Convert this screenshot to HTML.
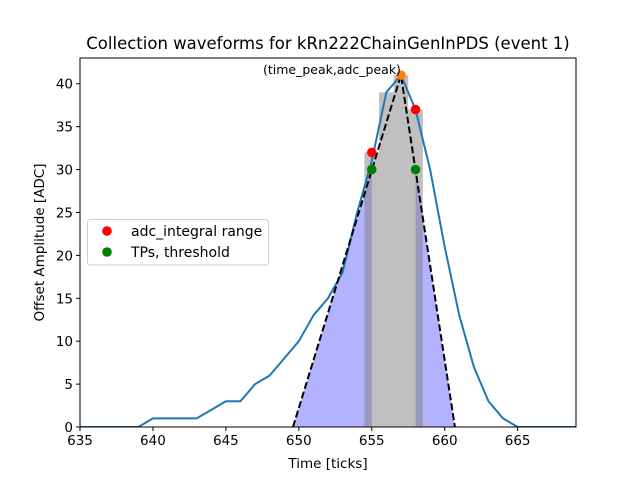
<!DOCTYPE html>
<html><head><meta charset="utf-8"><style>
html,body{margin:0;padding:0;background:#fff;}
svg text{font-family:"DejaVu Sans","Liberation Sans",sans-serif;}
</style></head><body>
<svg id="chart" width="640" height="480" xmlns="http://www.w3.org/2000/svg">
<rect width="640" height="480" fill="#fff"/>
<g id="plot"></g>
</svg>
<script>
const ticks = [635,636,637,638,639,640,641,642,643,644,645,646,647,648,649,650,651,652,653,654,655,656,657,658,659,660,661,662,663,664,665,666,667,668,669];
const adc = [0,0,0,0,0,1,1,1,1,2,3,3,5,6,8,10,13,15,18,25,31,39,41,37,30,21,13,7,3,1,0,0,0,0,0];
const barTicks = [655,656,657,658];
const barValues = [32,39,41,37];
const redX = [655,658];
const redY = [32,37];
const greenX = [655,658];
const greenY = [30,30];
const peakX = [657];
const peakY = [41];
const triX = [649.6,657,660.7];
const triY = [0,41,0];
const integralRange = [655,658];
const xTickLabels = [635,640,645,650,655,660,665];
const yTickLabels = [0,5,10,15,20,25,30,35,40];

const L=80,R=576,T=58,B=427,X0=635,X1=669,Y0=0,Y1=43;
const sx=v=>L+(v-X0)/(X1-X0)*(R-L);
const sy=v=>B-(v-Y0)/(Y1-Y0)*(B-T);
const NS="http://www.w3.org/2000/svg";
const g=document.getElementById('plot');
function mk(tag,attrs,parent){const e=document.createElementNS(NS,tag);for(const k in attrs)e.setAttribute(k,attrs[k]);(parent||g).appendChild(e);return e;}

const defs=mk('defs',{});
const cp=mk('clipPath',{id:'clip'},defs);
mk('rect',{x:L,y:T,width:R-L,height:B-T},cp);
const inner=mk('g',{'clip-path':'url(#clip)'});



function triAt(x){
  if(x<=triX[1]) return triY[0]+(x-triX[0])/(triX[1]-triX[0])*(triY[1]-triY[0]);
  return triY[1]+(x-triX[1])/(triX[2]-triX[1])*(triY[2]-triY[1]);
}
const lp=[[triX[0],0],[integralRange[0],triAt(integralRange[0])],[integralRange[0],0]];
const rp=[[integralRange[1],0],[integralRange[1],triAt(integralRange[1])],[triX[2],0]];
[lp,rp].forEach((p,i)=>{
  const e=mk('polygon',{points:p.map(q=>sx(q[0])+','+sy(q[1])).join(' '),fill:'#0000ff','fill-opacity':0.3,stroke:'none'},inner);
  
  
});
barTicks.forEach((t,i)=>{
  const e=mk('rect',{x:sx(t-0.5),y:sy(barValues[i]),width:sx(t+0.5)-sx(t-0.5),height:sy(0)-sy(barValues[i]),fill:'#808080','fill-opacity':0.5},inner);
  
  
});
const wl=mk('polyline',{points:ticks.map((t,i)=>sx(t)+','+sy(adc[i])).join(' '),fill:'none',stroke:'#1f77b4','stroke-width':2,'stroke-linejoin':'round'},inner);


const tl=mk('polyline',{points:triX.map((t,i)=>sx(t)+','+sy(triY[i])).join(' '),fill:'none',stroke:'#000','stroke-width':2,'stroke-dasharray':'7,3'},inner);


function dots(xs,ys,col,name){xs.forEach((x,i)=>{const e=mk('circle',{cx:sx(x),cy:sy(ys[i]),r:4.8,fill:col},inner);
  
  });}
dots(redX,redY,'#ff0000','adc-integral-point');
dots(greenX,greenY,'#008000','tp-threshold-point');
dots(peakX,peakY,'#ff7f0e','peak-point');
const an=mk('text',{x:sx(peakX[0]),y:sy(peakY[0])-1,'text-anchor':'end','font-size':12.5,fill:'#000'});
an.textContent='(time_peak,adc_peak)';



const fr=mk('rect',{x:L,y:T,width:R-L,height:B-T,fill:'none',stroke:'#000','stroke-width':1});


xTickLabels.forEach(v=>{
  const x=sx(v);
  const l=mk('line',{x1:x,y1:B,x2:x,y2:B+4,stroke:'#000'});
  
  
  const t=mk('text',{x:x,y:B+18,'text-anchor':'middle','font-size':13.5,fill:'#000'});
  t.textContent=v;
  
  
});
yTickLabels.forEach(v=>{
  const y=sy(v);
  const l=mk('line',{x1:L-4,y1:y,x2:L,y2:y,stroke:'#000'});
  
  
  const t=mk('text',{x:L-7,y:y+5,'text-anchor':'end','font-size':13.5,fill:'#000'});
  t.textContent=v;
  
  
});
const xt=mk('text',{x:(L+R)/2,y:468,'text-anchor':'middle','font-size':13.5});
xt.textContent='Time [ticks]';


const yt=mk('text',{x:0,y:0,'text-anchor':'middle','font-size':13.5,transform:'translate(44,'+((T+B)/2)+') rotate(-90)'});
yt.textContent='Offset Amplitude [ADC]';


const ti=mk('text',{x:(L+R)/2,y:49,'text-anchor':'middle','font-size':16.5});
ti.textContent='Collection waveforms for kRn222ChainGenInPDS (event 1)';



const lg=mk('g',{});


const lb=mk('rect',{x:87.5,y:219.5,width:181,height:45.5,rx:3,fill:'#fff','fill-opacity':0.8,stroke:'#d0d0d0'},lg);


[['#ff0000','adc_integral range',231],['#008000','TPs, threshold',252]].forEach((d,i)=>{
  const c=mk('circle',{cx:107,cy:d[2],r:4.8,fill:d[0]},lg);
  
  
  const t=mk('text',{x:131,y:d[2]+5,'font-size':14},lg);
  t.textContent=d[1];
  
  
});
</script>
</body></html>
